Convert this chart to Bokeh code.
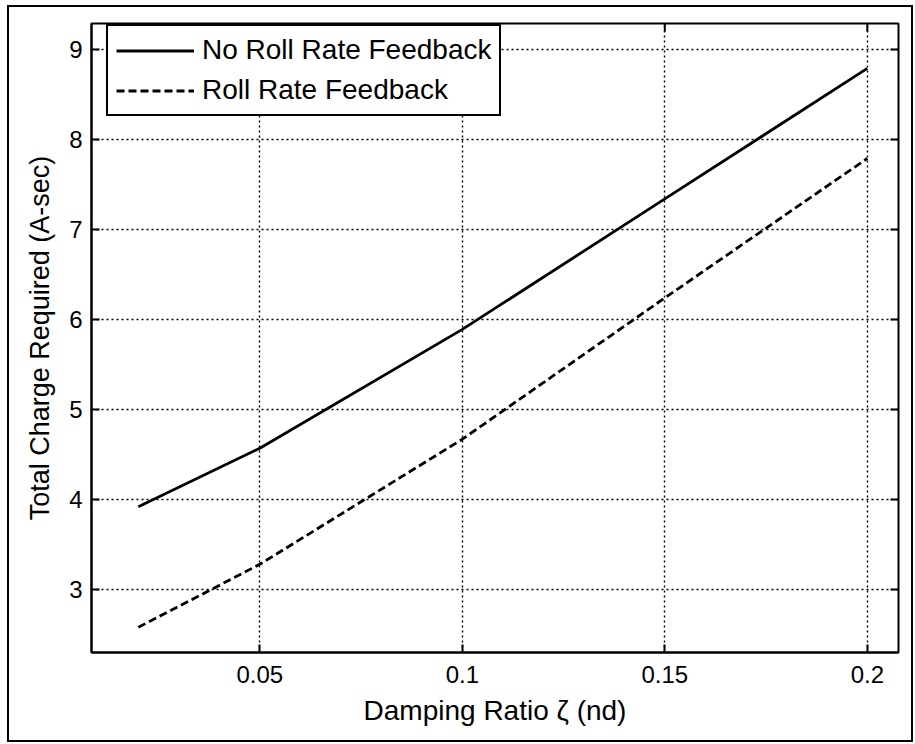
from bokeh.plotting import figure
from bokeh.models import Range1d, FixedTicker, Legend, LegendItem, ColumnDataSource
from bokeh.layouts import column
from bokeh.embed import file_html
from bokeh.resources import INLINE

# Damping ratio samples and total charge (A-sec) for each controller variant
damping = [0.02, 0.05, 0.10, 0.15, 0.20]
charge_no_feedback = [3.92, 4.57, 5.89, 7.34, 8.79]
charge_feedback = [2.58, 3.28, 4.67, 6.24, 7.79]

x_ticks = [0.05, 0.10, 0.15, 0.20]
x_tick_labels = ["0.05", "0.1", "0.15", "0.2"]
y_ticks = [3, 4, 5, 6, 7, 8, 9]

FONT = "Liberation Sans"
X0, X1 = 0.00844, 0.2077
Y0, Y1 = 2.300, 9.289
FRAME_W, FRAME_H = 807, 629
TICK_PX = 8

src = ColumnDataSource(dict(x=damping, a=charge_no_feedback, b=charge_feedback))

p = figure(
    output_backend="svg", toolbar_location=None,
    frame_width=FRAME_W, frame_height=FRAME_H,
    x_range=Range1d(X0, X1), y_range=Range1d(Y0, Y1),
    min_border_left=82, min_border_top=16, min_border_right=13, min_border_bottom=88,
    background_fill_color="white", border_fill_color="white",
)

p.outline_line_color = "black"
p.outline_line_width = 2

# Dotted grid
for g in (p.xgrid, p.ygrid):
    g.grid_line_color = "black"
    g.grid_line_width = 1.4
    g.grid_line_dash = "2 3"
p.xgrid.ticker = FixedTicker(ticks=x_ticks)
p.ygrid.ticker = FixedTicker(ticks=y_ticks)

def style_axis(ax):
    ax.axis_line_width = 2
    ax.axis_line_color = "black"
    ax.major_tick_in = TICK_PX
    ax.major_tick_out = 0
    ax.major_tick_line_width = 2
    ax.major_tick_line_color = "black"
    ax.minor_tick_line_color = None
    ax.major_label_text_font = FONT
    ax.major_label_text_color = "black"
    ax.major_label_text_font_size = "24px"
    ax.axis_label_text_font = FONT
    ax.axis_label_text_color = "black"
    ax.axis_label_text_font_style = "normal"

xa = p.xaxis[0]
xa.ticker = FixedTicker(ticks=x_ticks)
xa.major_label_overrides = {t: l for t, l in zip(x_ticks, x_tick_labels)}
style_axis(xa)
xa.major_label_standoff = 13
xa.axis_label = "Damping Ratio ζ (nd)"
xa.axis_label_text_font_size = "28px"
xa.axis_label_standoff = 9

ya = p.yaxis[0]
ya.ticker = FixedTicker(ticks=y_ticks)
style_axis(ya)
ya.major_label_standoff = 9
ya.axis_label = "Total Charge Required (A-sec)"
ya.axis_label_text_font_size = "27px"
ya.axis_label_standoff = 11

# Inward ticks along the top and right edges of the box
dy = TICK_PX * (Y1 - Y0) / FRAME_H
dx = TICK_PX * (X1 - X0) / FRAME_W
p.segment(x0=x_ticks, y0=[Y1] * len(x_ticks), x1=x_ticks, y1=[Y1 - dy] * len(x_ticks),
          line_color="black", line_width=2)
p.segment(x0=[X1] * len(y_ticks), y0=y_ticks, x1=[X1 - dx] * len(y_ticks), y1=y_ticks,
          line_color="black", line_width=2)

r1 = p.line("x", "a", source=src, line_color="black", line_width=2.8)
r2 = p.line("x", "b", source=src, line_color="black", line_width=2.8, line_dash="8 4")

legend = Legend(
    items=[LegendItem(label="No Roll Rate Feedback", renderers=[r1]),
           LegendItem(label="Roll Rate Feedback", renderers=[r2])],
    location=(15, 536),
    border_line_color="black", border_line_width=2, border_line_alpha=1,
    background_fill_color="white", background_fill_alpha=1,
    label_text_font=FONT, label_text_font_size="28px", label_text_color="black",
    glyph_width=78, glyph_height=29, label_height=29,
    label_standoff=8, padding=8, spacing=8, margin=0,
)
p.add_layout(legend)

page = column(p, margin=(5, 0, 0, 7),
              styles={"border": "2px solid black", "background-color": "white"})

open("out.html", "w").write(file_html(page, INLINE))
